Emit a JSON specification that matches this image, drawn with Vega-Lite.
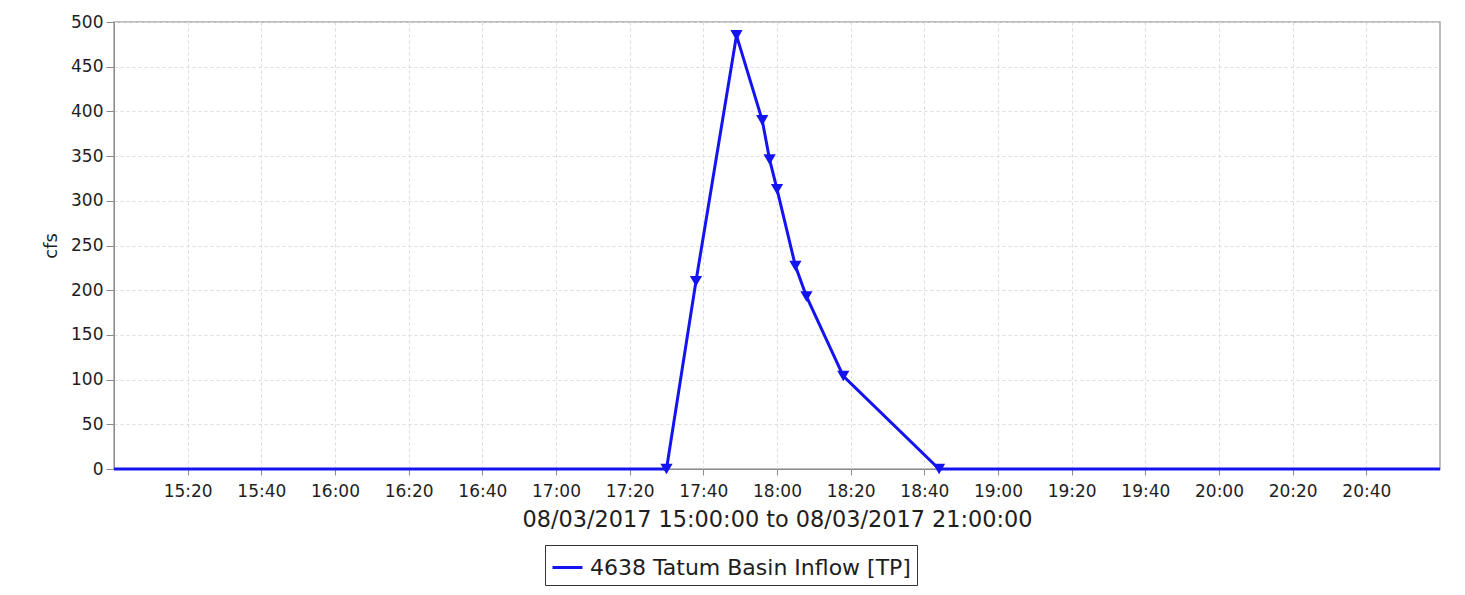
{
  "$schema": "https://vega.github.io/schema/vega-lite/v6.json",
  "width": 1326,
  "height": 447,
  "autosize": {"type": "none"},
  "padding": {"left": 114, "top": 22, "right": 25, "bottom": 126},
  "background": "white",
  "data": {
    "format": {"parse": {"time": "date"}},
    "values": [
      {"time": "2017-08-03T15:00:00", "cfs": 0, "series": "4638 Tatum Basin Inflow [TP]"},
      {"time": "2017-08-03T17:30:00", "cfs": 0, "series": "4638 Tatum Basin Inflow [TP]"},
      {"time": "2017-08-03T17:38:00", "cfs": 210, "series": "4638 Tatum Basin Inflow [TP]"},
      {"time": "2017-08-03T17:49:00", "cfs": 485, "series": "4638 Tatum Basin Inflow [TP]"},
      {"time": "2017-08-03T17:56:00", "cfs": 390, "series": "4638 Tatum Basin Inflow [TP]"},
      {"time": "2017-08-03T17:58:00", "cfs": 346, "series": "4638 Tatum Basin Inflow [TP]"},
      {"time": "2017-08-03T18:00:00", "cfs": 313, "series": "4638 Tatum Basin Inflow [TP]"},
      {"time": "2017-08-03T18:05:00", "cfs": 227, "series": "4638 Tatum Basin Inflow [TP]"},
      {"time": "2017-08-03T18:08:00", "cfs": 193, "series": "4638 Tatum Basin Inflow [TP]"},
      {"time": "2017-08-03T18:18:00", "cfs": 104, "series": "4638 Tatum Basin Inflow [TP]"},
      {"time": "2017-08-03T18:44:00", "cfs": 0, "series": "4638 Tatum Basin Inflow [TP]"},
      {"time": "2017-08-03T21:00:00", "cfs": 0, "series": "4638 Tatum Basin Inflow [TP]"}
    ]
  },
  "encoding": {
    "x": {
      "field": "time",
      "type": "temporal",
      "scale": {
        "domain": [
          {"year": 2017, "month": 8, "date": 3, "hours": 15, "minutes": 0},
          {"year": 2017, "month": 8, "date": 3, "hours": 21, "minutes": 0}
        ],
        "nice": false
      },
      "axis": {
        "title": "08/03/2017 15:00:00 to 08/03/2017 21:00:00",
        "format": "%H:%M",
        "values": [
          {"year": 2017, "month": 8, "date": 3, "hours": 15, "minutes": 20},
          {"year": 2017, "month": 8, "date": 3, "hours": 15, "minutes": 40},
          {"year": 2017, "month": 8, "date": 3, "hours": 16, "minutes": 0},
          {"year": 2017, "month": 8, "date": 3, "hours": 16, "minutes": 20},
          {"year": 2017, "month": 8, "date": 3, "hours": 16, "minutes": 40},
          {"year": 2017, "month": 8, "date": 3, "hours": 17, "minutes": 0},
          {"year": 2017, "month": 8, "date": 3, "hours": 17, "minutes": 20},
          {"year": 2017, "month": 8, "date": 3, "hours": 17, "minutes": 40},
          {"year": 2017, "month": 8, "date": 3, "hours": 18, "minutes": 0},
          {"year": 2017, "month": 8, "date": 3, "hours": 18, "minutes": 20},
          {"year": 2017, "month": 8, "date": 3, "hours": 18, "minutes": 40},
          {"year": 2017, "month": 8, "date": 3, "hours": 19, "minutes": 0},
          {"year": 2017, "month": 8, "date": 3, "hours": 19, "minutes": 20},
          {"year": 2017, "month": 8, "date": 3, "hours": 19, "minutes": 40},
          {"year": 2017, "month": 8, "date": 3, "hours": 20, "minutes": 0},
          {"year": 2017, "month": 8, "date": 3, "hours": 20, "minutes": 20},
          {"year": 2017, "month": 8, "date": 3, "hours": 20, "minutes": 40}
        ],
        "labelFontSize": 17,
        "tickSize": 6,
        "labelPadding": 8,
        "titleFontSize": 22.4,
        "titlePadding": 9,
        "labelFlush": false,
        "labelOverlap": false
      }
    },
    "y": {
      "field": "cfs",
      "type": "quantitative",
      "scale": {"domain": [0, 500], "nice": false},
      "axis": {
        "title": "cfs",
        "values": [0, 50, 100, 150, 200, 250, 300, 350, 400, 450, 500],
        "labelFontSize": 17,
        "tickSize": 8,
        "labelPadding": 3,
        "titleFontSize": 18,
        "titlePadding": 10
      }
    }
  },
  "layer": [
    {
      "mark": {"type": "line", "strokeWidth": 3, "clip": false},
      "encoding": {
        "color": {
          "field": "series",
          "type": "nominal",
          "scale": {"range": ["#1414f0"]},
          "legend": {
            "title": null,
            "orient": "none",
            "legendX": 431,
            "legendY": 523,
            "symbolType": "stroke",
            "symbolStrokeWidth": 3,
            "symbolSize": 900,
            "labelFontSize": 22,
            "labelOffset": 6,
            "padding": 6,
            "strokeColor": "#333333",
            "fillColor": "white",
            "labelLimit": 0
          }
        }
      }
    },
    {
      "transform": [
        {
          "filter": {
            "field": "time",
            "range": [
              {"year": 2017, "month": 8, "date": 3, "hours": 17, "minutes": 30},
              {"year": 2017, "month": 8, "date": 3, "hours": 18, "minutes": 44}
            ]
          }
        }
      ],
      "mark": {"type": "point", "shape": "triangle-down", "filled": true, "size": 150, "color": "#1414f0", "opacity": 1, "clip": false}
    }
  ],
  "config": {
    "font": "DejaVu Sans",
    "view": {"stroke": "#a8a8a8", "strokeWidth": 1.5},
    "axis": {
      "labelColor": "#1e1e1e",
      "titleColor": "#1e1e1e",
      "titleFontWeight": "normal",
      "domainColor": "#8c8c8c",
      "tickColor": "#8c8c8c",
      "gridColor": "#dcdcdc",
      "gridDash": [3, 3],
      "gridWidth": 1,
      "labelFont": "DejaVu Sans",
      "titleFont": "DejaVu Sans"
    },
    "legend": {
      "labelColor": "#1e1e1e",
      "labelFont": "DejaVu Sans"
    }
  }
}
